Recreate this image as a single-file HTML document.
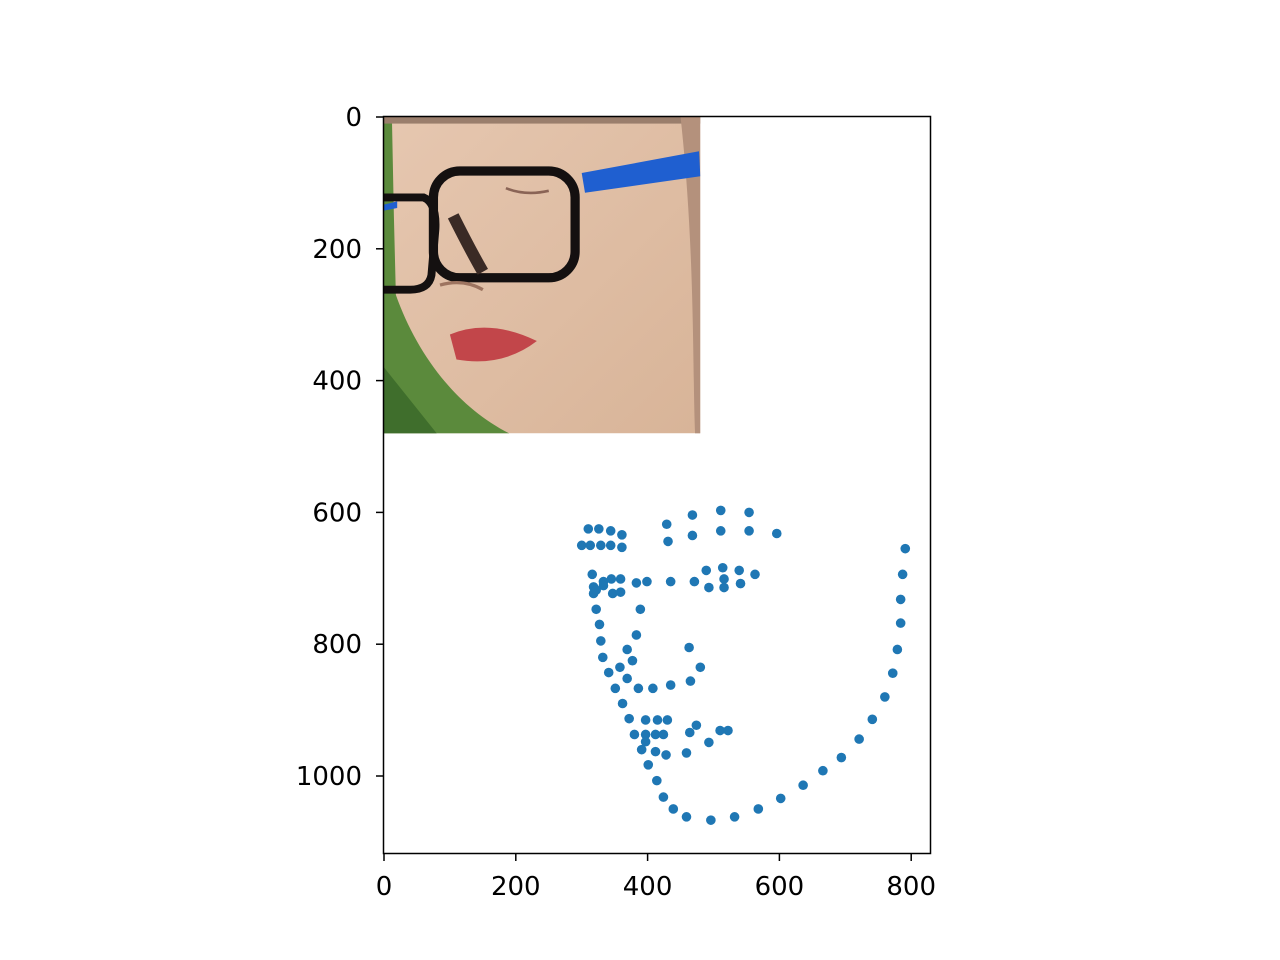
<!DOCTYPE html>
<html><head><meta charset="utf-8"><style>
body{margin:0;background:#fff;}
svg{display:block;font-family:"DejaVu Sans","Liberation Sans",sans-serif;}
</style></head><body>
<svg id="chart" width="1280" height="960">
<defs>
<clipPath id="imgclip"><rect x="0" y="0" width="480" height="480"/></clipPath>
<linearGradient id="skin" x1="0" y1="0" x2="1" y2="1"><stop offset="0" stop-color="#e6c7b0"/><stop offset="1" stop-color="#d8b498"/></linearGradient>
</defs>
<g id="photo" clip-path="url(#imgclip)">
<rect width="480" height="480" fill="url(#skin)"/>
<path d="M0 0 L12 0 L15 150 L18 270 C50 360 110 440 190 480 L0 480 Z" fill="#5b8a3c"/>
<path d="M0 380 L80 480 L0 480 Z" fill="#3f6e2c"/>
<rect x="0" y="0" width="480" height="10" fill="#9a7e6c"/>
<path d="M450 0 L480 0 L480 480 L472 480 C468 380 472 200 450 0Z" fill="#b4917c"/>
<path d="M300 85 L478 52 L480 90 L305 115 Z" fill="#1f5fd0"/>
<path d="M0 133 L20 128 L20 138 L0 142Z" fill="#1f5fd0"/>
<rect x="75" y="82" width="215" height="162" rx="40" fill="none" stroke="#141010" stroke-width="14"/>
<path d="M-20 122 L60 122 Q80 130 78 170 L72 240 Q68 262 40 262 L-20 262" fill="none" stroke="#141010" stroke-width="12"/>
<path d="M105 150 Q130 200 150 235" stroke="#3a2a25" stroke-width="18" fill="none"/>
<path d="M100 330 Q160 305 232 340 Q180 380 110 368 Z" fill="#c2464a"/>
<path d="M85 255 Q120 245 150 262" stroke="#9d7460" stroke-width="5" fill="none"/>
<path d="M185 108 Q215 120 250 112" stroke="#8a6456" stroke-width="4" fill="none"/>
</g>
<g id="points"></g>
<rect x="383.5" y="116.5" width="547" height="737" fill="none" stroke="#000" stroke-width="1.5"/>
<g id="axes" font-size="26" fill="#000"></g>
</svg>
<script>
const xs=[429,468,511,554,431,468,511,554,596,310,326,344,361,300,313,329,344,361,316,489,514,539,563,333,345,359,383,399,435,471,493,516,516,541,318,318,333,347,359,322,322,389,327,383,329,369,463,332,377,358,480,341,369,465,351,386,408,435,362,372,397,415,430,474,464,510,522,380,397,412,424,397,493,391,412,428,459,401,414,424,439,459,496,532,568,602,636,666,694,721,741,760,772,779,784,784,787,791];
const ys=[618,604,597,600,644,635,628,628,632,625,625,628,634,650,650,650,650,653,694,688,684,688,694,705,701,701,707,705,705,705,714,701,714,708,713,723,711,723,721,718,747,747,770,786,795,808,805,820,825,835,835,843,852,856,867,867,867,862,890,913,915,915,915,923,934,931,931,937,937,937,937,948,949,960,963,968,965,983,1007,1032,1050,1062,1067,1062,1050,1034,1014,992,972,944,914,880,844,808,768,732,694,655];
const xTicks=[0,200,400,600,800];
const yTicks=[0,200,400,600,800,1000];
const X0=384,Y0=117,S=0.659;
const sx=v=>X0+v*S, sy=v=>Y0+v*S;
const NS="http://www.w3.org/2000/svg";
document.getElementById('photo').setAttribute('transform',`translate(${X0},${Y0}) scale(${S})`);
const pg=document.getElementById('points');
for(let i=0;i<xs.length;i++){
 const c=document.createElementNS(NS,'circle');
 c.setAttribute('cx',sx(xs[i]));c.setAttribute('cy',sy(ys[i]));c.setAttribute('r',4.8);c.setAttribute('fill','#1f77b4');
 
 
 pg.appendChild(c);
}
const ax=document.getElementById('axes');
xTicks.forEach(t=>{
 const l=document.createElementNS(NS,'line');
 l.setAttribute('x1',sx(t));l.setAttribute('x2',sx(t));l.setAttribute('y1',854);l.setAttribute('y2',861);l.setAttribute('stroke','#000');l.setAttribute('stroke-width',1.5);
 
 
 ax.appendChild(l);
 const tx=document.createElementNS(NS,'text');
 tx.setAttribute('x',sx(t));tx.setAttribute('y',895);tx.setAttribute('text-anchor','middle');tx.textContent=t;
 
 
 ax.appendChild(tx);
});
yTicks.forEach(t=>{
 const l=document.createElementNS(NS,'line');
 l.setAttribute('x1',376);l.setAttribute('x2',383);l.setAttribute('y1',sy(t));l.setAttribute('y2',sy(t));l.setAttribute('stroke','#000');l.setAttribute('stroke-width',1.5);
 
 
 ax.appendChild(l);
 const tx=document.createElementNS(NS,'text');
 tx.setAttribute('x',362);tx.setAttribute('y',sy(t)+9);tx.setAttribute('text-anchor','end');tx.textContent=t;
 
 
 ax.appendChild(tx);
});
</script>
</body></html>
